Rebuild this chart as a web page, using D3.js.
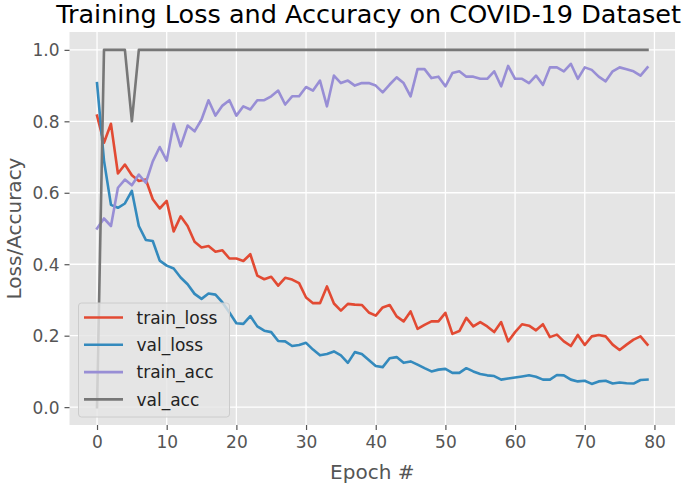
<!DOCTYPE html>
<html><head><meta charset="utf-8">
<script src="https://cdn.jsdelivr.net/npm/d3@7"></script>
<style>body{margin:0;background:#fff}svg{display:block}text{font-family:"DejaVu Sans",sans-serif}</style>
</head><body>
<script>
const epochs = d3.range(0, 80);
const trainLoss = [0.816,0.740,0.793,0.654,0.679,0.649,0.633,0.637,0.582,0.556,0.577,0.492,0.534,0.507,0.463,0.447,0.451,0.435,0.439,0.416,0.416,0.409,0.428,0.368,0.358,0.365,0.340,0.362,0.357,0.347,0.307,0.291,0.291,0.338,0.290,0.270,0.289,0.287,0.286,0.265,0.256,0.279,0.286,0.254,0.240,0.268,0.219,0.230,0.240,0.240,0.264,0.205,0.213,0.250,0.226,0.238,0.226,0.210,0.238,0.184,0.210,0.232,0.228,0.215,0.232,0.196,0.203,0.184,0.171,0.202,0.174,0.198,0.202,0.198,0.175,0.160,0.175,0.189,0.198,0.175];
const valLoss = [0.907,0.690,0.566,0.558,0.570,0.605,0.507,0.468,0.465,0.410,0.396,0.388,0.363,0.344,0.317,0.303,0.318,0.315,0.293,0.265,0.235,0.233,0.255,0.226,0.214,0.210,0.185,0.184,0.171,0.174,0.180,0.161,0.145,0.149,0.156,0.145,0.124,0.154,0.149,0.132,0.115,0.112,0.137,0.140,0.124,0.128,0.119,0.109,0.100,0.105,0.107,0.096,0.096,0.109,0.100,0.093,0.089,0.087,0.077,0.080,0.083,0.086,0.089,0.085,0.077,0.077,0.090,0.089,0.077,0.072,0.074,0.065,0.072,0.074,0.066,0.069,0.067,0.066,0.076,0.077];
const trainAcc = [0.500,0.528,0.507,0.614,0.637,0.621,0.651,0.628,0.688,0.728,0.690,0.793,0.730,0.788,0.772,0.805,0.859,0.816,0.844,0.859,0.816,0.842,0.833,0.859,0.859,0.870,0.886,0.847,0.870,0.870,0.896,0.886,0.914,0.842,0.928,0.907,0.914,0.900,0.907,0.907,0.900,0.881,0.903,0.923,0.907,0.870,0.946,0.946,0.921,0.925,0.898,0.935,0.940,0.925,0.925,0.919,0.919,0.940,0.898,0.955,0.919,0.919,0.907,0.928,0.902,0.951,0.951,0.940,0.961,0.919,0.951,0.944,0.925,0.912,0.940,0.951,0.946,0.940,0.928,0.951];
const valAcc = [0.0,1,1,1,1,0.8,1,1,1,1,1,1,1,1,1,1,1,1,1,1,1,1,1,1,1,1,1,1,1,1,1,1,1,1,1,1,1,1,1,1,1,1,1,1,1,1,1,1,1,1,1,1,1,1,1,1,1,1,1,1,1,1,1,1,1,1,1,1,1,1,1,1,1,1,1,1,1,1,1,1];
const seriesNames = ["train_loss","val_loss","train_acc","val_acc"];
const seriesColors = ["#E24A33","#348ABD","#988ED5","#777777"];
const xTicks = [0,10,20,30,40,50,60,70,80];
const yTicks = [0.0,0.2,0.4,0.6,0.8,1.0];
const titleText = "Training Loss and Accuracy on COVID-19 Dataset";
const xLabel = "Epoch #";
const yLabel = "Loss/Accuracy";

const W = 683, H = 486;
const pLeft = 69.5, pRight = 675, pTop = 32, pBottom = 425;
const svg = d3.select("body").append("svg").attr("width", W).attr("height", H);

const x = d3.scaleLinear().domain([-3.95, 82.95]).range([pLeft, pRight]);
const y = d3.scaleLinear().domain([-0.05, 1.05]).range([pBottom, pTop]);

svg.append("rect").attr("x", pLeft).attr("y", pTop).attr("width", pRight-pLeft).attr("height", pBottom-pTop).attr("fill", "#E5E5E5");

// grid
svg.append("g").selectAll("line").data(xTicks).join("line")
  .attr("x1", d=>x(d)).attr("x2", d=>x(d)).attr("y1", pTop).attr("y2", pBottom)
  .attr("stroke", "#fff").attr("stroke-width", 1.3);
svg.append("g").selectAll("line").data(yTicks).join("line")
  .attr("y1", d=>y(d)).attr("y2", d=>y(d)).attr("x1", pLeft).attr("x2", pRight)
  .attr("stroke", "#fff").attr("stroke-width", 1.3);

// axes
const xAxis = svg.append("g").attr("transform", `translate(0,${pBottom})`)
  .call(d3.axisBottom(x).tickValues(xTicks).tickFormat(d3.format("d")).tickSizeOuter(0).tickSizeInner(5).tickPadding(6));
const yAxis = svg.append("g").attr("transform", `translate(${pLeft},0)`)
  .call(d3.axisLeft(y).tickValues(yTicks).tickFormat(d3.format(".1f")).tickSizeOuter(0).tickSizeInner(5).tickPadding(5));
[xAxis, yAxis].forEach(a => {
  a.select(".domain").remove();
  a.selectAll(".tick line").attr("stroke", "#555").attr("stroke-width", 1.2);
  a.selectAll(".tick text").attr("fill", "#555").style("font-size", "17px").style("font-family", "DejaVu Sans");
});
yAxis.selectAll(".tick text").attr("dy", "0.36em");

// lines
const seriesData = [trainLoss, valLoss, trainAcc, valAcc];
const line = d3.line().x((d,i)=>x(epochs[i])).y(d=>y(d));
seriesData.forEach((s, k) => {
  svg.append("path").datum(s).attr("d", line).attr("fill", "none")
    .attr("stroke", seriesColors[k]).attr("stroke-width", 2.6).attr("stroke-linejoin", "round").attr("stroke-linecap", "square");
});

// legend
const lg = svg.append("g");
lg.append("rect").attr("x", 78.5).attr("y", 303).attr("width", 151).attr("height", 114).attr("rx", 3)
  .attr("fill", "#E5E5E5").attr("fill-opacity", 0.8).attr("stroke", "#CCCCCC").attr("stroke-width", 1);
seriesNames.forEach((n, k) => {
  const yy = 317.5 + k * 27.3;
  lg.append("line").attr("x1", 84).attr("x2", 123).attr("y1", yy).attr("y2", yy)
    .attr("stroke", seriesColors[k]).attr("stroke-width", 2.6);
  lg.append("text").attr("x", 136.5).attr("y", yy).attr("dy", "0.36em").attr("fill", "#222")
    .style("font-size", "17px").text(n);
});

// labels
svg.append("text").attr("x", (pLeft+pRight)/2).attr("y", 472).attr("text-anchor", "middle").attr("dy", "0.35em")
  .attr("fill", "#555").style("font-size", "20px").text(xLabel);
svg.append("text").attr("transform", `translate(14,${(pTop+pBottom)/2}) rotate(-90)`).attr("text-anchor", "middle").attr("dy", "0.35em")
  .attr("fill", "#555").style("font-size", "20px").text(yLabel);
svg.append("text").attr("x", 681).attr("y", 22.5).attr("text-anchor", "end")
  .attr("fill", "#000").style("font-size", "25.5px").text(titleText);
</script>
</body></html>
